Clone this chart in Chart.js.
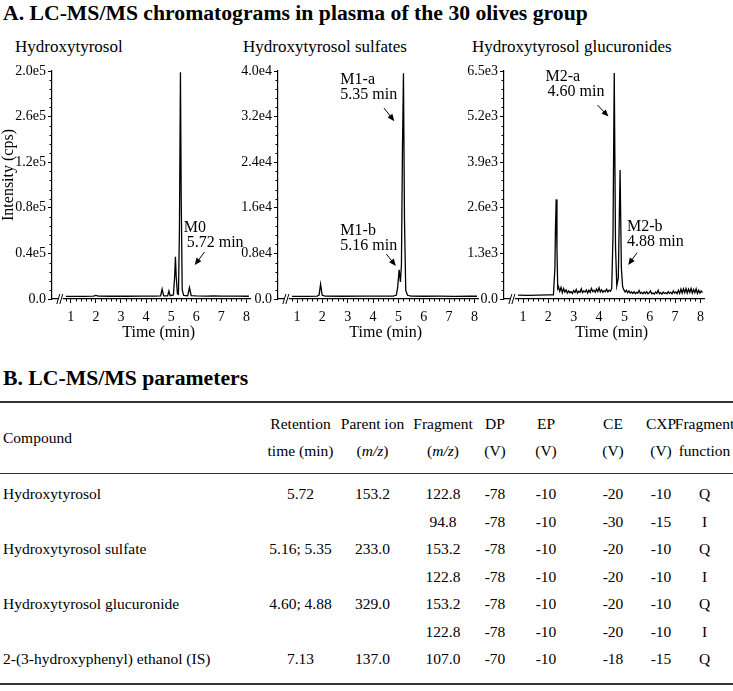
<!DOCTYPE html>
<html>
<head>
<meta charset="utf-8">
<script src="https://cdn.jsdelivr.net/npm/chart.js@4.4.1/dist/chart.umd.min.js"></script>
<style>
body { margin: 0; background: #fff; color: #000; font-family: "Liberation Serif", "Times New Roman", serif; }
#page { position: relative; width: 733px; height: 691px; overflow: hidden; }
.head { position: absolute; left: 3px; font-weight: bold; font-size: 21.7px; line-height: 24px; white-space: nowrap; }
.ptitle { position: absolute; top: 37px; font-size: 17px; line-height: 20px; white-space: nowrap; }
canvas { position: absolute; top: 60px; }
#tbl { position: absolute; left: 0; top: 401px; width: 733px; border-collapse: collapse; table-layout: fixed; font-size: 15.5px; }
#tbl td { padding: 0; text-align: center; white-space: nowrap; line-height: 27.5px; }
#tbl td.l { text-align: left; padding-left: 3px; }
#tbl .c { position: relative; left: 50%; width: 200px; margin-left: -100px; text-align: center; }
#tbl tr.h1 td { border-top: 2px solid #333; line-height: 20px; padding-top: 11px; vertical-align: bottom; }
#tbl tr.h2 td { line-height: 20px; padding-top: 7px; padding-bottom: 12px; vertical-align: top; border-bottom: 1.5px solid #333; }
#tbl td.cmp { vertical-align: middle !important; padding-top: 0 !important; border-bottom: 1.5px solid #333; }
#tbl tr.first td { padding-top: 6px; }
#tbl tr.last td { padding-bottom: 10px; border-bottom: 2.5px solid #333; }
</style>
</head>
<body>
<div id="page">
  <div class="head" style="top:1px">A. LC-MS/MS chromatograms in plasma of the 30 olives group</div>
  <div class="ptitle" style="left:15px">Hydroxytyrosol</div>
  <div class="ptitle" style="left:243px">Hydroxytyrosol sulfates</div>
  <div class="ptitle" style="left:472px">Hydroxytyrosol glucuronides</div>
  <canvas id="c1" width="256" height="290" style="left:0px"></canvas>
  <canvas id="c2" width="248" height="290" style="left:236px"></canvas>
  <canvas id="c3" width="248" height="290" style="left:462px"></canvas>
  <div class="head" style="top:366px">B. LC-MS/MS parameters</div>
  <table id="tbl"></table>
</div>
<script>
// x axis (min)
const xTicks = [1, 2, 3, 4, 5, 6, 7, 8];

// Hydroxytyrosol
const htTime = [0.80, 1.50, 1.90, 2.00, 2.10, 2.60, 3.20, 3.80, 4.30, 4.58, 4.64, 4.70, 4.86, 4.91, 4.96,
  5.09, 5.14, 5.17, 5.20, 5.25, 5.29, 5.33, 5.37, 5.40, 5.44, 5.50, 5.66, 5.73, 5.80, 6.00, 6.40, 6.70, 7.00, 7.60, 8.10];
const htInt = [2300, 2300, 2600, 3200, 2600, 2400, 2400, 2500, 2500, 2700, 8700, 2800, 2800, 7000, 2900,
  3500, 20000, 37000, 20000, 4500, 4000, 60000, 199000, 90000, 8000, 3200, 2900, 10000, 3000, 2700, 2500, 2800, 2500, 2600, 2400];
const htYTicks = [0, 40000, 80000, 120000, 160000, 200000];
const htYLabels = ["0.0", "0.4e5", "0.8e5", "1.2e5", "2.6e5", "2.0e5"];

// Hydroxytyrosol sulfates
const sulTime = [0.80, 1.40, 1.80, 1.87, 1.93, 1.99, 2.10, 2.80, 3.50, 4.20, 4.80, 4.92, 4.97, 5.03, 5.08,
  5.12, 5.16, 5.20, 5.24, 5.29, 5.36, 5.50, 6.00, 6.60, 7.20, 7.80, 8.10];
const sulInt = [450, 450, 500, 700, 2600, 700, 520, 480, 500, 500, 520, 700, 2000, 5100, 3000,
  6000, 26000, 39600, 14000, 1500, 650, 520, 480, 500, 470, 500, 480];
const sulYTicks = [0, 8000, 16000, 24000, 32000, 40000];
const sulYLabels = ["0.0", "0.8e4", "1.6e4", "2.4e4", "3.2e4", "4.0e4"];

// Hydroxytyrosol glucuronides
const gluTime = [0.80, 1.20, 1.60, 2.00, 2.20, 2.26, 2.28, 2.31, 2.34, 2.37,
  2.40, 2.45, 2.50, 2.55, 2.60, 2.65, 2.70, 2.75, 2.80, 2.85, 2.90, 2.95, 3.00, 3.05, 3.10, 3.15, 3.20, 3.25, 3.30, 3.35,
  3.40, 3.45, 3.50, 3.55, 3.60, 3.65, 3.70, 3.75, 3.80, 3.85, 3.90, 3.95, 4.00, 4.05, 4.10, 4.15, 4.20, 4.25, 4.30, 4.35,
  4.40, 4.45, 4.50, 4.55, 4.60, 4.65, 4.70, 4.76, 4.83, 4.88, 4.93, 4.98,
  5.03, 5.08, 5.13, 5.18, 5.23, 5.28, 5.33, 5.38, 5.43, 5.48, 5.53, 5.58, 5.63, 5.68, 5.73, 5.78, 5.83, 5.88, 5.93, 5.98,
  6.03, 6.08, 6.13, 6.18, 6.23, 6.28, 6.33, 6.38, 6.43, 6.48, 6.53, 6.58, 6.63, 6.68, 6.73, 6.78, 6.83, 6.88, 6.93, 6.98,
  7.03, 7.08, 7.13, 7.18, 7.23, 7.28, 7.33, 7.38, 7.43, 7.48, 7.53, 7.58, 7.63, 7.68, 7.73, 7.78, 7.83, 7.88, 7.93, 7.98,
  8.03, 8.08];
const gluInt = [110, 105, 110, 115, 120, 900, 2000, 2840, 1400, 300,
  350, 220, 330, 180, 300, 200, 260, 170, 230, 180, 210, 160, 240, 190, 270, 170, 220, 190, 290, 180,
  230, 200, 260, 170, 250, 190, 300, 210, 250, 190, 280, 210, 320, 200, 260, 190, 240, 210, 280, 200,
  250, 220, 300, 1800, 6440, 1500, 380, 600, 3680, 900, 350, 260,
  200, 250, 180, 230, 170, 200, 160, 210, 150, 190, 170, 240, 160, 190, 150, 200, 160, 210, 150, 180,
  230, 150, 170, 140, 200, 160, 250, 150, 180, 140, 200, 160, 180, 150, 210, 160, 190, 150, 230, 170,
  200, 150, 250, 160, 280, 170, 290, 180, 300, 170, 280, 190, 300, 170, 270, 180, 290, 160, 250, 170,
  230, 180];
const gluYTicks = [0, 1300, 2600, 3900, 5200, 6500];
const gluYLabels = ["0.0", "1.3e3", "2.6e3", "3.9e3", "5.2e3", "6.5e3"];

// Table B
const tableHead1 = ["Retention", "Parent ion", "Fragment", "DP", "EP", "CE", "CXP", "Fragment"];
const tableHead2 = ["time (min)", "(<i>m/z</i>)", "(<i>m/z</i>)", "(V)", "(V)", "(V)", "(V)", "function"];
const tableRows = [
  ["Hydroxytyrosol", "5.72", "153.2", "122.8", "-78", "-10", "-20", "-10", "Q"],
  ["", "", "", "94.8", "-78", "-10", "-30", "-15", "I"],
  ["Hydroxytyrosol sulfate", "5.16; 5.35", "233.0", "153.2", "-78", "-10", "-20", "-10", "Q"],
  ["", "", "", "122.8", "-78", "-10", "-20", "-10", "I"],
  ["Hydroxytyrosol glucuronide", "4.60; 4.88", "329.0", "153.2", "-78", "-10", "-20", "-10", "Q"],
  ["", "", "", "122.8", "-78", "-10", "-20", "-10", "I"],
  ["2-(3-hydroxyphenyl) ethanol (IS)", "7.13", "137.0", "107.0", "-70", "-10", "-18", "-15", "Q"]
];
const colWidths = [264, 73, 71, 70, 34, 68, 66, 30, 57];

// build table
const cell = s => `<td><div class="c">${s}</div></td>`;
let html = "<colgroup>" + colWidths.map(w => `<col style="width:${w}px">`).join("") + "</colgroup>";
html += '<tr class="h1"><td rowspan="2" class="l cmp">Compound</td>' + tableHead1.map(cell).join("") + "</tr>";
html += '<tr class="h2">' + tableHead2.map(cell).join("") + "</tr>";
tableRows.forEach((r, i) => {
  let cls = "r" + (i === 0 ? " first" : "") + (i === tableRows.length - 1 ? " last" : "");
  html += `<tr class="${cls}"><td class="l">${r[0]}</td>` + r.slice(1).map(cell).join("") + "</tr>";
});
document.getElementById("tbl").innerHTML = html;

const SERIF = "'Liberation Serif', 'Times New Roman', serif";
Chart.defaults.font.family = SERIF;
Chart.defaults.color = "#000";

// minor ticks, axis break, titles, peak labels
const decor = {
  id: "decor",
  afterDraw(chart, args, o) {
    const { ctx, chartArea: a, scales: { x, y } } = chart;
    ctx.save();
    ctx.strokeStyle = "#000";
    ctx.fillStyle = "#000";
    ctx.lineWidth = 1;

    // y minor ticks
    const minor = o.yStep / 5;
    ctx.beginPath();
    for (let k = 1; k < 25; k++) {
      if (k % 5 === 0) continue;
      const py = Math.round(y.getPixelForValue(k * minor)) + 0.5;
      ctx.moveTo(a.left - 2.5, py);
      ctx.lineTo(a.left, py);
    }
    // x minor ticks
    for (let k = 4; k <= 40; k++) {
      if (k % 5 === 0) continue;
      const px = Math.round(x.getPixelForValue(k / 5)) + 0.5;
      ctx.moveTo(px, a.bottom);
      ctx.lineTo(px, a.bottom + 2.5);
    }
    ctx.stroke();

    // axis break //
    const bx = x.getPixelForValue(0.6);
    ctx.fillStyle = "#fff";
    ctx.fillRect(bx - 2, a.bottom - 2, 4, 4);
    ctx.beginPath();
    ctx.moveTo(bx - 4, a.bottom + 5); ctx.lineTo(bx - 1, a.bottom - 5);
    ctx.moveTo(bx - 1, a.bottom + 5); ctx.lineTo(bx + 2, a.bottom - 5);
    ctx.stroke();
    ctx.fillStyle = "#000";

    // axis titles
    ctx.font = "16px " + SERIF;
    ctx.textBaseline = "middle";
    ctx.textAlign = "center";
    const x1 = x.getPixelForValue(1), x8 = x.getPixelForValue(8);
    ctx.fillText("Time (min)", (x1 + x8) / 2, a.bottom + 34);
    if (o.yTitle) {
      ctx.save();
      ctx.translate(8.5, o.yTitleY);
      ctx.rotate(-Math.PI / 2);
      ctx.fillText(o.yTitle, 0, 0);
      ctx.restore();
    }

    // peak labels with arrows
    ctx.textAlign = "left";
    (o.notes || []).forEach(n => {
      const tx = x.getPixelForValue(n.t), ty = y.getPixelForValue(n.v);
      n.lines.forEach((s, i) => ctx.fillText(s, tx + (i ? n.indent : 0), ty + i * 15));
      const x0 = x.getPixelForValue(n.from[0]), y0 = y.getPixelForValue(n.from[1]);
      const x2 = x.getPixelForValue(n.to[0]), y2 = y.getPixelForValue(n.to[1]);
      const ang = Math.atan2(y2 - y0, x2 - x0);
      ctx.beginPath();
      ctx.moveTo(x0, y0);
      ctx.lineTo(x2 - 5 * Math.cos(ang), y2 - 5 * Math.sin(ang));
      ctx.stroke();
      ctx.beginPath();
      ctx.moveTo(x2, y2);
      ctx.lineTo(x2 - 7 * Math.cos(ang) + 3 * Math.sin(ang), y2 - 7 * Math.sin(ang) - 3 * Math.cos(ang));
      ctx.lineTo(x2 - 7 * Math.cos(ang) - 3 * Math.sin(ang), y2 - 7 * Math.sin(ang) + 3 * Math.cos(ang));
      ctx.closePath();
      ctx.fill();
    });
    ctx.restore();
  }
};

function axisStyle() {
  return {
    grid: { drawOnChartArea: false, color: "#000", tickLength: 4, tickWidth: 1 },
    border: { color: "#000", width: 1.2 },
  };
}

function panel(id, times, values, yTicks, yLabels, yWidth, deco) {
  return new Chart(document.getElementById(id), {
    type: "line",
    data: {
      datasets: [{
        data: times.map((t, i) => ({ x: t, y: values[i] })),
        borderColor: "#000",
        borderWidth: 1.3,
        pointRadius: 0,
        tension: 0
      }]
    },
    options: {
      responsive: false,
      animation: false,
      devicePixelRatio: 1,
      layout: { padding: { left: 0, top: 11, right: 4, bottom: 0 } },
      plugins: { legend: { display: false }, tooltip: { enabled: false }, decor: deco },
      scales: {
        x: Object.assign(axisStyle(), {
          type: "linear", min: 0.25, max: 8.15,
          afterBuildTicks: s => { s.ticks = xTicks.map(v => ({ value: v })); },
          afterFit: s => { s.height = 51; },
          ticks: { color: "#000", font: { family: SERIF, size: 14 }, padding: 6, maxRotation: 0, autoSkip: false,
                   callback: v => String(v) }
        }),
        y: Object.assign(axisStyle(), {
          min: 0, max: yTicks[yTicks.length - 1],
          afterBuildTicks: s => { s.ticks = yTicks.map(v => ({ value: v })); },
          afterFit: s => { s.width = yWidth; },
          ticks: { color: "#000", font: { family: SERIF, size: 14 }, padding: 2, autoSkip: false,
                   callback: (v, i) => yLabels[i] }
        })
      }
    },
    plugins: [decor]
  });
}

panel("c1", htTime, htInt, htYTicks, htYLabels, 52, {
  yStep: 40000, yTitle: "Intensity (cps)", yTitleY: 115,
  notes: [{ lines: ["M0", "5.72 min"], indent: 3, t: 5.50, v: 62300, from: [6.33, 41230], to: [5.94, 29820] }]
});
panel("c2", sulTime, sulInt, sulYTicks, sulYLabels, 42, {
  yStep: 8000,
  notes: [
    { lines: ["M1-a", "5.35 min"], indent: 0, t: 2.71, v: 38400, from: [4.43, 33500], to: [4.84, 31200] },
    { lines: ["M1-b", "5.16 min"], indent: 0, t: 2.71, v: 11900, from: [4.52, 7900], to: [4.90, 5800] }
  ]
});
panel("c3", gluTime, gluInt, gluYTicks, gluYLabels, 42, {
  yStep: 1300,
  notes: [
    { lines: ["M2-a", "4.60 min"], indent: 2, t: 1.89, v: 6330, from: [3.94, 5530], to: [4.37, 5200] },
    { lines: ["M2-b", "4.88 min"], indent: 0, t: 5.10, v: 2050, from: [5.50, 1320], to: [5.15, 970] }
  ]
});
</script>
</body>
</html>
